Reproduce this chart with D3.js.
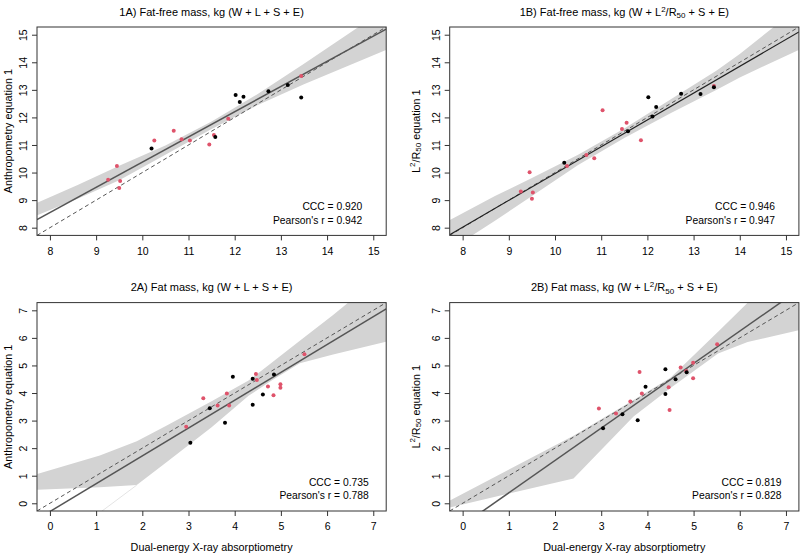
<!DOCTYPE html>
<html><head><meta charset="utf-8">
<script src="https://cdn.jsdelivr.net/npm/d3@7"></script>
<style>
body{margin:0;background:#fff}
text{font-family:"Liberation Sans",Arial,Helvetica,sans-serif;fill:#000}
</style>
</head><body>
<svg id="c" width="800" height="554"></svg>
<script>
// ---------- data ----------
const ffmTicks = [8, 9, 10, 11, 12, 13, 14, 15];
const fmTicks = [0, 1, 2, 3, 4, 5, 6, 7];

// Fat-free mass (x = DXA)
const ffmBlackX = [12.02, 12.19, 12.11, 12.73, 13.15, 13.44, 11.58, 10.20];
const ffmRedX = [13.44, 11.86, 10.68, 10.26, 10.85, 11.03, 11.55, 11.45, 9.45, 9.26, 9.52, 9.50];
const ffmA_BlackY = [12.81, 12.75, 12.56, 12.95, 13.18, 12.72, 11.29, 10.87];
const ffmA_RedY = [13.50, 11.95, 11.52, 11.16, 11.21, 11.16, 11.36, 11.02, 10.24, 9.74, 9.69, 9.44];
const ffmB_BlackY = [12.73, 12.38, 12.03, 12.86, 12.85, 13.09, 11.50, 10.36];
const ffmB_RedY = [13.14, 11.17, 10.64, 10.24, 10.52, 12.26, 11.81, 11.58, 10.01, 9.31, 9.28, 9.05];

// Fat mass (x = DXA)
const fmBlackX = [3.96, 4.39, 4.85, 4.61, 4.39, 3.46, 3.79, 3.04];
const fmRedX = [5.51, 4.46, 4.48, 4.72, 4.99, 4.99, 4.84, 3.83, 3.32, 3.63, 3.88, 2.95];
const fmA_BlackY = [4.59, 4.52, 4.67, 3.95, 3.57, 3.45, 2.92, 2.20];
const fmA_RedY = [5.41, 4.69, 4.47, 4.24, 4.32, 4.19, 3.92, 3.98, 3.81, 3.55, 3.55, 2.78];
const fmB_BlackY = [4.23, 4.86, 4.75, 4.50, 3.96, 3.23, 3.01, 2.72];
const fmB_RedY = [5.77, 4.21, 3.38, 4.93, 5.10, 4.54, 4.80, 4.76, 3.26, 3.69, 3.98, 3.44];

// fitted lines [intercept, slope]
const fit1A = [1.239, 0.914];
const fit1B = [0.234, 0.973];
const fit2A = [-0.30, 1.01];
const fit2B = [-0.794, 1.173];

// confidence bands [x, lower, upper]
const band1A = [[7.725, 8.45, 8.90], [8.6, 9.05, 9.55], [9.5, 9.72, 10.25], [10.5, 10.65, 10.98],
  [11.5, 11.58, 11.85], [12.5, 12.45, 12.85], [13.5, 13.2, 13.95], [15.275, 14.45, 15.95]];
const band1B = [[7.725, 7.2, 8.28], [8.7, 8.25, 9.15], [9.5, 9.15, 9.8], [10.5, 10.27, 10.65],
  [11.5, 11.25, 11.6], [12.5, 12.15, 12.65], [13.5, 13.0, 13.7], [14.0, 13.45, 14.3], [15.275, 14.45, 16.0]];
const band2A = [[-0.275, 0.49, 1.06], [1.08, 0.58, 1.73], [1.88, 0.66, 2.25], [2.53, 1.50, 2.82],
  [3.5, 2.76, 3.7], [4.3, 3.9, 4.45], [4.8, 4.45, 5.1], [5.41, 5.08, 5.9], [6.13, 5.4, 6.83], [7.275, 5.86, 8.4]];
const band2B = [[-0.275, -0.15, 0.10], [2.4, 0.90, 2.45], [3.7, 3.15, 3.75], [4.5, 4.18, 4.55],
  [5.53, 5.43, 6.22], [6.17, 5.85, 7.275], [7.275, 6.28, 8.6]];
const faint2A = [[1.12, -0.29], [1.88, 0.66]];

const titles = ["1A) Fat-free mass, kg (W + L + S + E)", "1B", "2A) Fat mass, kg (W + L + S + E)", "2B"];
const cccText = ["CCC = 0.920", "CCC = 0.946", "CCC = 0.735", "CCC = 0.819"];
const rText = ["Pearson's r = 0.942", "Pearson's r = 0.947", "Pearson's r = 0.788", "Pearson's r = 0.828"];

const RED = "#DF536B";

const panels = [
  {id: 0, xoff: 0, yoff: 0, dom: [7.72, 15.28], ticks: ffmTicks, bx: ffmBlackX, by: ffmA_BlackY, rx: ffmRedX, ry: ffmA_RedY,
   fit: fit1A, band: band1A, fitCol: "#555", fitW: 1.5, annDx: 24, ylab: "anthro", xlab: false},
  {id: 1, xoff: 412.7, yoff: 0, dom: [7.72, 15.28], ticks: ffmTicks, bx: ffmBlackX, by: ffmB_BlackY, rx: ffmRedX, ry: ffmB_RedY,
   fit: fit1B, band: band1B, fitCol: "#222", fitW: 1.2, annDx: 24, ylab: "l2r", xlab: false},
  {id: 2, xoff: 0, yoff: 275.6, dom: [-0.28, 7.28], ticks: fmTicks, bx: fmBlackX, by: fmA_BlackY, rx: fmRedX, ry: fmA_RedY,
   fit: fit2A, band: band2A, faint: faint2A, fitCol: "#555", fitW: 1.5, annDx: 17.5, ylab: "anthro", xlab: true},
  {id: 3, xoff: 412.7, yoff: 275.6, dom: [-0.28, 7.28], ticks: fmTicks, bx: fmBlackX, by: fmB_BlackY, rx: fmRedX, ry: fmB_RedY,
   fit: fit2B, band: band2B, fitCol: "#555", fitW: 1.5, annDx: 17.5, ylab: "l2r", xlab: true}
];

const svg = d3.select("#c");
const L = 37, R = 386.2, T = 27, B = 235.4;

function titleL2R(t, prefix, suffix, big, small) {
  t.append("tspan").text(prefix + "L");
  t.append("tspan").attr("dy", -4).style("font-size", small + "px").text("2");
  t.append("tspan").attr("dy", 4).text("/R");
  t.append("tspan").attr("dy", 2.5).style("font-size", small + "px").text("50");
  t.append("tspan").attr("dy", -2.5).text(suffix);
}

panels.forEach(p => {
  const g = svg.append("g").attr("transform", `translate(${p.xoff},${p.yoff})`);
  const x = d3.scaleLinear().domain(p.dom).range([L, R]);
  const y = d3.scaleLinear().domain(p.dom).range([B, T]);
  const cid = "clip" + p.id;
  g.append("clipPath").attr("id", cid).append("rect")
    .attr("x", L).attr("y", T).attr("width", R - L).attr("height", B - T);
  const pg = g.append("g").attr("clip-path", `url(#${cid})`);

  // band
  const area = d3.area().x(d => x(d[0])).y0(d => y(d[1])).y1(d => y(d[2]));
  pg.append("path").datum(p.band).attr("d", area).attr("fill", "#d3d3d3").attr("stroke", "none");

  if (p.faint) {
    pg.append("path").datum(p.faint).attr("d", d3.line().x(d => x(d[0])).y(d => y(d[1])))
      .attr("stroke", "#e4e4e4").attr("stroke-width", 1).attr("fill", "none");
  }

  // identity line (dashed)
  const line = d3.line().x(d => x(d[0])).y(d => y(d[1]));
  pg.append("path").datum([[p.dom[0], p.dom[0]], [p.dom[1], p.dom[1]]]).attr("d", line)
    .attr("stroke", "#555").attr("stroke-width", 1).attr("stroke-dasharray", "4,3").attr("fill", "none");

  // fitted line
  const [a, b] = p.fit;
  pg.append("path").datum([[p.dom[0], a + b * p.dom[0]], [p.dom[1], a + b * p.dom[1]]]).attr("d", line)
    .attr("stroke", p.fitCol).attr("stroke-width", p.fitW).attr("fill", "none");

  // points
  const red = p.rx.map((v, i) => [v, p.ry[i]]);
  const blk = p.bx.map((v, i) => [v, p.by[i]]);
  pg.selectAll("circle.r").data(red).enter().append("circle").attr("class", "r")
    .attr("cx", d => x(d[0])).attr("cy", d => y(d[1])).attr("r", 2).attr("fill", RED);
  pg.selectAll("circle.k").data(blk).enter().append("circle").attr("class", "k")
    .attr("cx", d => x(d[0])).attr("cy", d => y(d[1])).attr("r", 2).attr("fill", "#000");

  // frame
  g.append("rect").attr("x", L).attr("y", T).attr("width", R - L).attr("height", B - T)
    .attr("fill", "none").attr("stroke", "#333").attr("stroke-width", 1);

  // axes
  const xa = g.append("g").attr("transform", `translate(0,${B})`)
    .call(d3.axisBottom(x).tickValues(p.ticks).tickSize(5).tickPadding(7).tickFormat(d3.format("d")));
  const ya = g.append("g").attr("transform", `translate(${L},0)`)
    .call(d3.axisLeft(y).tickValues(p.ticks).tickSize(5).tickFormat(d3.format("d")));
  [xa, ya].forEach(ax => {
    ax.select(".domain").remove();
    ax.selectAll(".tick line").attr("stroke", "#333");
    ax.selectAll("text").style("font-size", "10.5px").style("font-family", '"Liberation Sans",Arial,sans-serif').attr("fill", "#000");
  });
  ya.selectAll(".tick text").attr("x", null).attr("dy", null).attr("text-anchor", "middle")
    .attr("dominant-baseline", "central").attr("transform", "translate(-14,0) rotate(-90)");

  // title
  const cx = (L + R) / 2;
  const t = g.append("text").attr("x", cx).attr("y", 15.5).attr("text-anchor", "middle").style("font-size", "11px");
  if (p.id === 1) titleL2R(t, "1B) Fat-free mass, kg (W + ", " + S + E)", 11, 8);
  else if (p.id === 3) titleL2R(t, "2B) Fat mass, kg (W + ", " + S + E)", 11, 8);
  else t.text(titles[p.id]);

  // y label
  const my = (T + B) / 2;
  if (p.ylab === "anthro") {
    g.append("text").attr("transform", `translate(7.5,${my}) rotate(-90)`).attr("text-anchor", "middle")
      .attr("dominant-baseline", "central").style("font-size", "10.8px").text("Anthropometry equation 1");
  } else {
    const yl = g.append("text").attr("transform", `translate(3,${my}) rotate(-90)`).attr("text-anchor", "middle")
      .attr("dominant-baseline", "central").style("font-size", "10.8px");
    yl.append("tspan").text("L");
    yl.append("tspan").attr("dy", -4).style("font-size", "8px").text("2");
    yl.append("tspan").attr("dy", 4).text("/R");
    yl.append("tspan").attr("dy", 2.5).style("font-size", "8px").text("50");
    yl.append("tspan").attr("dy", -2.5).text(" equation 1");
  }

  // x label
  if (p.xlab) {
    g.append("text").attr("x", cx).attr("y", 275).attr("text-anchor", "middle").style("font-size", "10.8px")
      .text("Dual-energy X-ray absorptiometry");
  }

  // annotations
  const ax0 = R - p.annDx;
  g.append("text").attr("x", ax0).attr("y", 183.2 + (p.yoff ? 0 : 0) + 27).attr("text-anchor", "end")
    .style("font-size", "10.3px").text(cccText[p.id]);
  g.append("text").attr("x", ax0).attr("y", 196.6 + 27).attr("text-anchor", "end")
    .style("font-size", "10.3px").text(rText[p.id]);
});
</script>
</body></html>
